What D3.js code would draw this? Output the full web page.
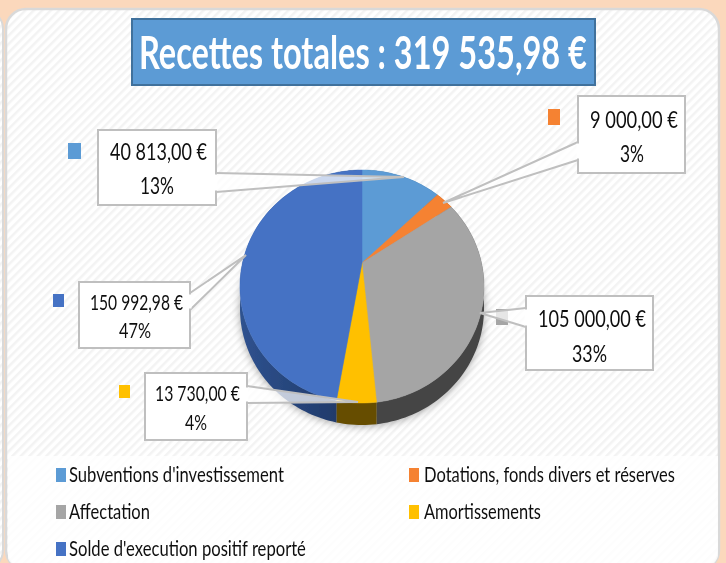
<!DOCTYPE html>
<html>
<head>
<meta charset="utf-8">
<script src="https://cdn.jsdelivr.net/npm/d3@7/dist/d3.min.js"></script>
<style>
	html, body { margin: 0; padding: 0; background: #fbd8bc; overflow: hidden; }
	svg { display: block; font-family: Lato, "Open Sans", sans-serif; }
</style>
</head>
<body>
<script>
	var categories = [ "Subventions d'investissement", "Dotations, fonds divers et réserves", "Affectation", "Amortissements", "Solde d'execution positif reporté" ];
	var values = [ 40813.00, 9000.00, 105000.00, 13730.00, 150992.98 ];
	var valueLabels = [ "40 813,00 €", "9 000,00 €", "105 000,00 €", "13 730,00 €", "150 992,98 €" ];
	var percentLabels = [ "13%", "3%", "33%", "4%", "47%" ];
	var colors = [ "#5b9bd5", "#f58233", "#a5a5a5", "#ffc000", "#4472c4" ];
	var wallColors = [ "#35608a", "#8f4a1c", "#454545", "#664d00", "url(#wallBlue)" ];
	var titleText = "Recettes totales : 319 535,98 €";

	var width = 726, height = 563;

	// callouts, same order as the categories
	var callouts = [
		{ box : [ 98, 130, 118, 75 ], tip : [ 404, 177 ], root : [ [ 216, 173 ], [ 216, 192 ] ], key : [ 68, 143, 13, 16 ], val : [ 110, 160, 97 ], pct : [ 140, 194, 34 ], size : 24 },
		{ box : [ 578, 96, 107, 77 ], tip : [ 443, 203 ], root : [ [ 578, 142 ], [ 578, 160 ] ], key : [ 548, 109, 12, 16 ], val : [ 590, 128, 88 ], pct : [ 620, 162, 24 ], size : 24 },
		{ box : [ 526, 296, 127, 74 ], tip : [ 480, 313 ], root : [ [ 526, 308 ], [ 526, 327 ] ], key : [ 496, 309, 12, 16 ], val : [ 538, 327, 108 ], pct : [ 572, 362, 35 ], size : 24 },
		{ box : [ 145, 373, 102, 67 ], tip : [ 358, 402 ], root : [ [ 247, 386 ], [ 247, 403 ] ], key : [ 119, 385, 11, 13 ], val : [ 155, 401, 85 ], pct : [ 185, 430, 22 ], size : 21 },
		{ box : [ 79, 282, 111, 66 ], tip : [ 246, 255 ], root : [ [ 190, 293 ], [ 190, 310 ] ], key : [ 53, 294, 11, 13 ], val : [ 90, 310, 93 ], pct : [ 119, 338, 32 ], size : 21 }
	];
	var legendPos = [
		{ x : 56, y : 468, tx : 69, w : 215 },
		{ x : 409, y : 468, tx : 424, w : 251 },
		{ x : 56, y : 505, tx : 69, w : 81 },
		{ x : 409, y : 505, tx : 424, w : 117 },
		{ x : 56, y : 542, tx : 69, w : 237 }
	];

	var svg = d3.select("body").append("svg").attr("width", width).attr("height", height);
	var defs = svg.append("defs");

	var hatch = defs.append("pattern").attr("id", "hatch").attr("width", 6).attr("height", 6)//
	.attr("patternUnits", "userSpaceOnUse").attr("patternTransform", "rotate(45)");
	hatch.append("rect").attr("width", 6).attr("height", 6).attr("fill", "#ffffff");
	hatch.append("rect").attr("width", 2.5).attr("height", 6).attr("fill", "#f3f3f3");

	var wallBlue = defs.append("linearGradient").attr("id", "wallBlue");
	wallBlue.append("stop").attr("offset", "0%").attr("stop-color", "#2f528f");
	wallBlue.append("stop").attr("offset", "100%").attr("stop-color", "#1c3461");

	defs.append("filter").attr("id", "soft").attr("x", "-20%").attr("y", "-20%").attr("width", "140%").attr("height", "140%")//
	.append("feGaussianBlur").attr("stdDeviation", 4);
	defs.append("filter").attr("id", "raster").attr("x", "-5%").attr("y", "-5%").attr("width", "110%").attr("height", "110%")//
	.append("feGaussianBlur").attr("stdDeviation", 0.45);
	defs.append("clipPath").attr("id", "cardClip").append("rect")//
	.attr("x", 6).attr("y", 9).attr("width", 713).attr("height", 561).attr("rx", 20);

	var root = svg.append("g").attr("filter", "url(#raster)");

	// squeezes a text to the width it has in the picture, the fonts here are wider than the original
	function fitText(selection, x, y, w) {
		selection.attr("transform", function(d, i) {
			var natural = this.getComputedTextLength();
			return "translate(" + x(d, i) + "," + y(d, i) + ") scale(" + w(d, i) / natural + ",1)";
		});
	}

	// background cards
	root.append("rect").attr("x", -300).attr("y", 9).attr("width", 303).attr("height", 561).attr("rx", 20)//
	.attr("fill", "url(#hatch)").attr("stroke", "#d9d9d9").attr("stroke-width", 2);
	root.append("rect").attr("x", 6).attr("y", 9).attr("width", 713).attr("height", 561).attr("rx", 20)//
	.attr("fill", "url(#hatch)").attr("stroke", "#d9d9d9").attr("stroke-width", 2.5);
	root.append("rect").attr("x", 8).attr("y", 456).attr("width", 710).attr("height", 120)//
	.attr("clip-path", "url(#cardClip)").attr("fill", "#ffffff").attr("fill-opacity", 0.82);

	// title
	root.append("rect").attr("x", 132).attr("y", 19).attr("width", 463).attr("height", 66)//
	.attr("fill", "#5b9bd5").attr("stroke", "#41719c").attr("stroke-width", 2);
	root.append("text").attr("font-size", 46).attr("font-weight", 700).attr("fill", "#ffffff").text(titleText)//
	.call(fitText, function() {
		return 139;
	}, function() {
		return 69;
	}, function() {
		return 448;
	});

	// pie, drawn flat then tilted through a perspective projection
	var cx = 362, apexY = 263, radiusX = 119.5, tiltY = 58.7, persp = -0.2017, depth = 22;

	function project(angle) {
		var u = Math.sin(angle), v = -Math.cos(angle);
		var w = 1 + persp * v;
		return [ cx + radiusX * u / w, (tiltY * v + apexY) / w ];
	}

	function arcPoints(d) {
		var n = Math.max(2, Math.ceil((d.endAngle - d.startAngle) * 40));
		return d3.range(n + 1).map(function(i) {
			return project(d.startAngle + (d.endAngle - d.startAngle) * i / n);
		});
	}

	var line = d3.line();
	var slices = d3.pie().sort(null)(values);

	var pieG = root.append("g");

	// shadow under the pie
	pieG.append("path").attr("d", line(d3.range(0, 361, 3).map(function(a) {
		var p = project(a * Math.PI / 180);
		return [ p[0], p[1] + depth + 1 ];
	})) + "Z").attr("fill", "#000000").attr("fill-opacity", 0.35).attr("filter", "url(#soft)");

	// side wall
	pieG.selectAll(".wall").data(slices).enter().append("path").attr("class", "wall")//
	.attr("fill", function(d) {
		return wallColors[d.index];
	})//
	.attr("d", function(d) {
		var top = arcPoints(d);
		var bottom = top.map(function(p) {
			return [ p[0], p[1] + depth ];
		}).reverse();
		return line(top.concat(bottom)) + "Z";
	});

	// top face
	pieG.selectAll(".slice").data(slices).enter().append("path").attr("class", "slice")//
	.attr("fill", function(d) {
		return colors[d.index];
	})//
	.attr("stroke", function(d) {
		return colors[d.index];
	})//
	.attr("stroke-width", 0.5)//
	.attr("d", function(d) {
		return line([ [ cx, apexY ] ].concat(arcPoints(d))) + "Z";
	});

	// callouts
	var call = root.selectAll(".callout").data(callouts).enter().append("g").attr("class", "callout");

	call.append("rect").attr("fill", function(d, i) {
		return colors[i];
	})//
	.attr("x", function(d) {
		return d.key[0];
	}).attr("y", function(d) {
		return d.key[1];
	}).attr("width", function(d) {
		return d.key[2];
	}).attr("height", function(d) {
		return d.key[3];
	});

	call.append("path").attr("fill", "#ffffff").attr("fill-opacity", 0.72).attr("stroke", "#bfbfbf").attr("stroke-width", 2)//
	.attr("d", function(d) {
		return line([ d.root[0], d.tip, d.root[1] ]);
	});

	call.append("rect").attr("fill", "#ffffff").attr("stroke", "#bfbfbf").attr("stroke-width", 2)//
	.attr("x", function(d) {
		return d.box[0];
	}).attr("y", function(d) {
		return d.box[1];
	}).attr("width", function(d) {
		return d.box[2];
	}).attr("height", function(d) {
		return d.box[3];
	});

	// opens the box border where the leader joins it
	call.append("path").attr("stroke", "#ffffff").attr("stroke-width", 3).attr("fill", "none")//
	.attr("d", function(d) {
		return line([ [ d.root[0][0], d.root[0][1] + 1.5 ], [ d.root[1][0], d.root[1][1] - 1.5 ] ]);
	});

	call.append("text").attr("fill", "#111111").attr("font-size", function(d) {
		return d.size;
	}).text(function(d, i) {
		return valueLabels[i];
	}).call(fitText, function(d) {
		return d.val[0];
	}, function(d) {
		return d.val[1];
	}, function(d) {
		return d.val[2];
	});

	call.append("text").attr("fill", "#111111").attr("font-size", function(d) {
		return d.size;
	}).text(function(d, i) {
		return percentLabels[i];
	}).call(fitText, function(d) {
		return d.pct[0];
	}, function(d) {
		return d.pct[1];
	}, function(d) {
		return d.pct[2];
	});

	// legend
	var legend = root.selectAll(".legend").data(categories).enter().append("g").attr("class", "legend");

	legend.append("rect").attr("width", 10).attr("height", 14).attr("fill", function(d, i) {
		return colors[i];
	}).attr("x", function(d, i) {
		return legendPos[i].x;
	}).attr("y", function(d, i) {
		return legendPos[i].y;
	});

	legend.append("text").attr("fill", "#111111").attr("font-size", 22).text(function(d) {
		return d;
	}).call(fitText, function(d, i) {
		return legendPos[i].tx;
	}, function(d, i) {
		return legendPos[i].y + 14;
	}, function(d, i) {
		return legendPos[i].w;
	});
</script>
</body>
</html>
